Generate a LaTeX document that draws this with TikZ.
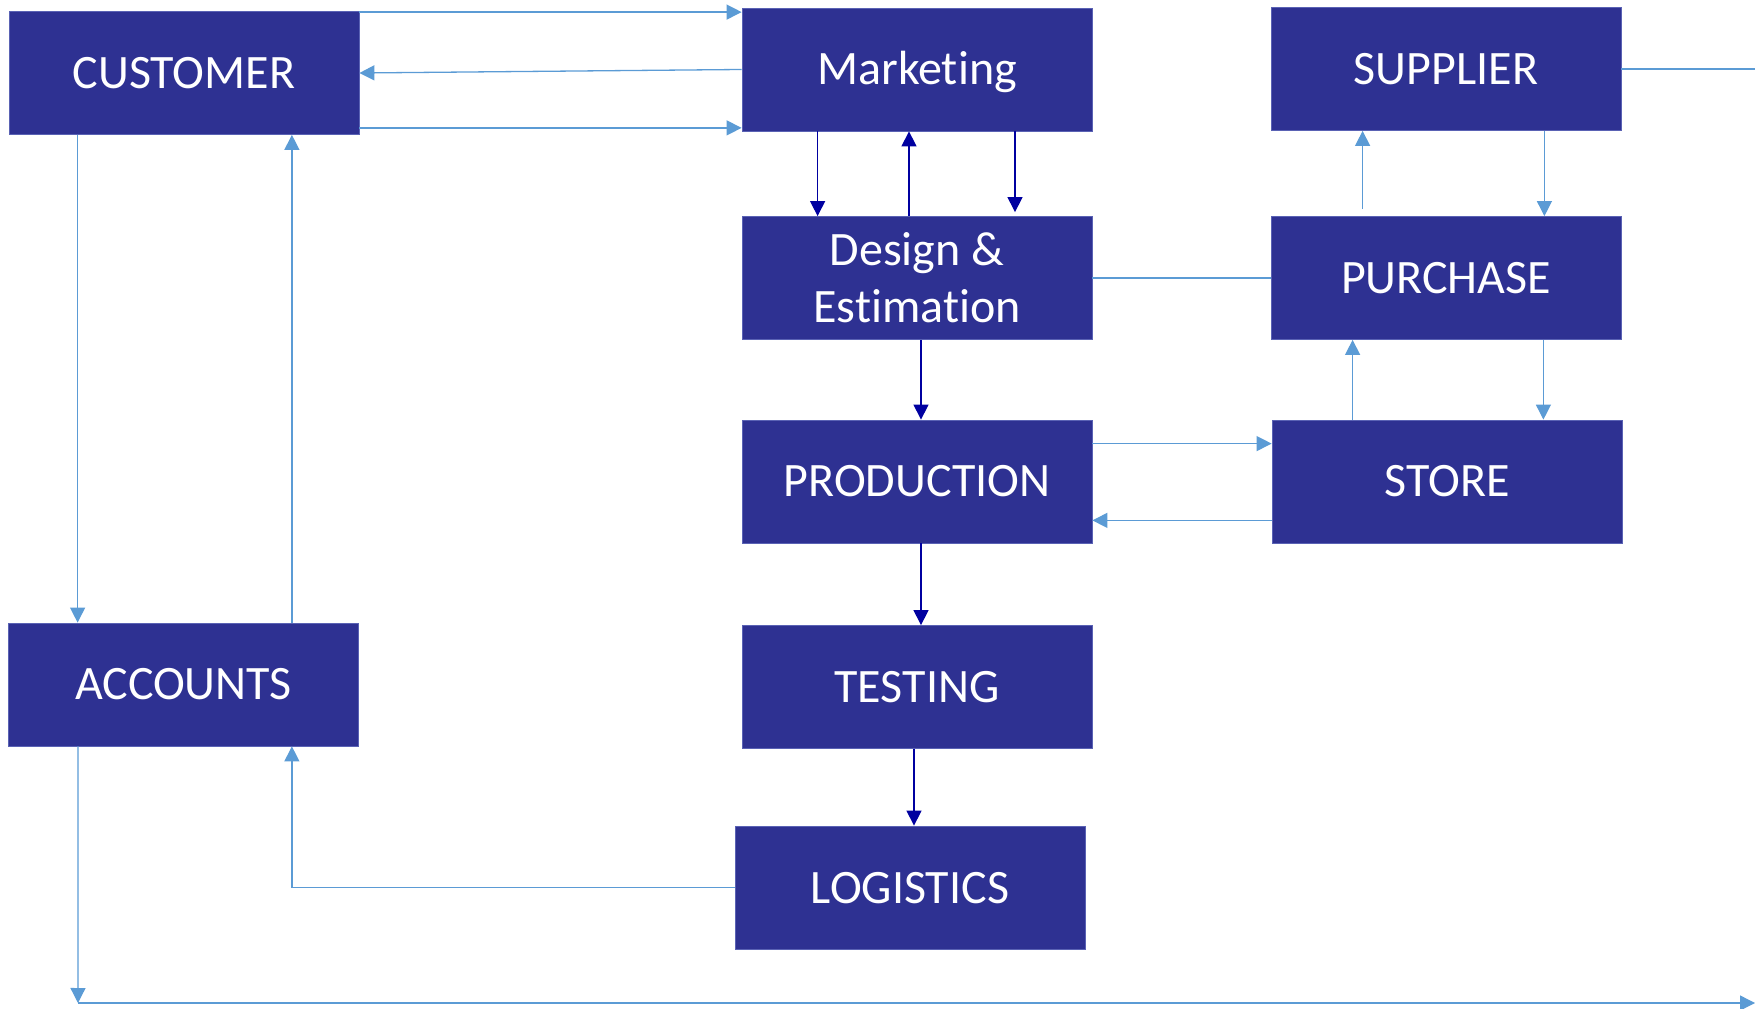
\documentclass[tikz,border=0pt]{standalone}
\usepackage{fontspec}
\setmainfont{Carlito}[RawFeature={-liga}]
\usetikzlibrary{arrows.meta}
\definecolor{boxblue}{HTML}{2E3192}
\definecolor{boxedge}{HTML}{5A62B4}
\definecolor{lightln}{HTML}{5B9BD5}
\definecolor{darkln}{HTML}{0000A0}
\begin{document}
\begin{tikzpicture}[x=1bp, y=1bp,
	box/.style={fill=boxblue, draw=boxedge, line width=0.8bp, minimum width=350bp, minimum height=123bp, inner sep=0pt, text=white, align=center, text height=31bp, text depth=0pt, font=\fontsize{48bp}{57bp}\selectfont},
	A/.style={line width=1.3bp, draw=#1, -{Triangle[length=15bp, width=15bp, fill=#1]}}]
		\useasboundingbox (0,0) rectangle (1755,1008);
		
		\node[box] (customer) at (184,935) {CUSTOMER};
		\node[box] (marketing) at (917,938.5) {Marketing};
		\node[box] (supplier) at (1446,939) {SUPPLIER};
		\node[box, text height={}, text depth={}] (design) at (917,730) {Design \&\\Estimation};
		\node[box] (purchase) at (1446,730) {PURCHASE};
		\node[box] (production) at (917,526.5) {PRODUCTION};
		\node[box] (store) at (1447,526.5) {STORE};
		\node[box] (accounts) at (183.5,323.5) {ACCOUNTS};
		\node[box] (testing) at (917,321) {TESTING};
		\node[box] (logistics) at (910,120.5) {LOGISTICS};
		
		\coordinate (edgeR) at (1755,939);
		\coordinate (corner) at (78,5);
		\coordinate (cornerR) at (1755,5);
		
		% customer and marketing
		\draw[A=lightln] ([yshift=-1bp]customer.north east) -- ([yshift=-1bp]customer.north east -| marketing.west);
		\draw[A=lightln] (marketing.west) -- (customer.east);
		\draw[A=lightln] ([yshift=7bp]customer.south east) -- ([yshift=7bp]customer.south east -| marketing.west);
		\draw[A=lightln] ([xshift=69bp]customer.south west) -- ([xshift=69bp]customer.south west |- accounts.north);
		\draw[A=lightln] ([xshift=-67bp]accounts.north east) -- ([xshift=-67bp]accounts.north east |- customer.south);
		
		% marketing and design
		\draw[A=darkln] ([xshift=76bp]marketing.south west) -- ([xshift=76bp]marketing.south west |- design.north);
		\draw[A=darkln] ([xshift=-8bp]design.north) -- ([xshift=-8bp]design.north |- marketing.south);
		\draw[A=darkln] ([xshift=98bp]marketing.south) -- ([xshift=98bp, yshift=4bp]marketing.south |- design.north);
		\draw[A=darkln] ([xshift=4bp]design.south) -- ([xshift=4bp]production.north);
		\draw[line width=1.3bp, draw=lightln] (design.east) -- (purchase.west);
		
		% supplier, purchase and store
		\draw[A=lightln] ([xshift=-77bp]supplier.south east) -- ([xshift=-77bp]supplier.south east |- purchase.north);
		\draw[A=lightln] ([xshift=92bp, yshift=7bp]purchase.north west) -- ([xshift=92bp]purchase.north west |- supplier.south);
		\draw[line width=1.3bp, draw=lightln] (supplier.east) -- (edgeR);
		\draw[A=lightln] ([xshift=81bp]store.north west) -- ([xshift=81bp]store.north west |- purchase.south);
		\draw[A=lightln] ([xshift=-78bp]purchase.south east) -- ([xshift=-78bp]purchase.south east |- store.north);
		\draw[A=lightln] ([yshift=-24bp]production.north east) -- ([yshift=-24bp]production.north east -| store.west);
		\draw[A=lightln] ([yshift=23bp]store.south west) -- ([yshift=23bp]store.south west -| production.east);
		
		% production to logistics
		\draw[A=darkln] ([xshift=4bp]production.south) -- ([xshift=4bp]testing.north);
		\draw[A=darkln] ([xshift=-3bp]testing.south) -- ([xshift=-3bp]testing.south |- logistics.north);
		\draw[A=lightln] (logistics.west) -| ([xshift=-67bp]accounts.south east);
		
		% accounts to the edge
		\draw[A=lightln] ([xshift=70bp]accounts.south west) -- (corner);
		\draw[A=lightln] (corner) -- (cornerR);
		
		\end{tikzpicture}
\end{document}
